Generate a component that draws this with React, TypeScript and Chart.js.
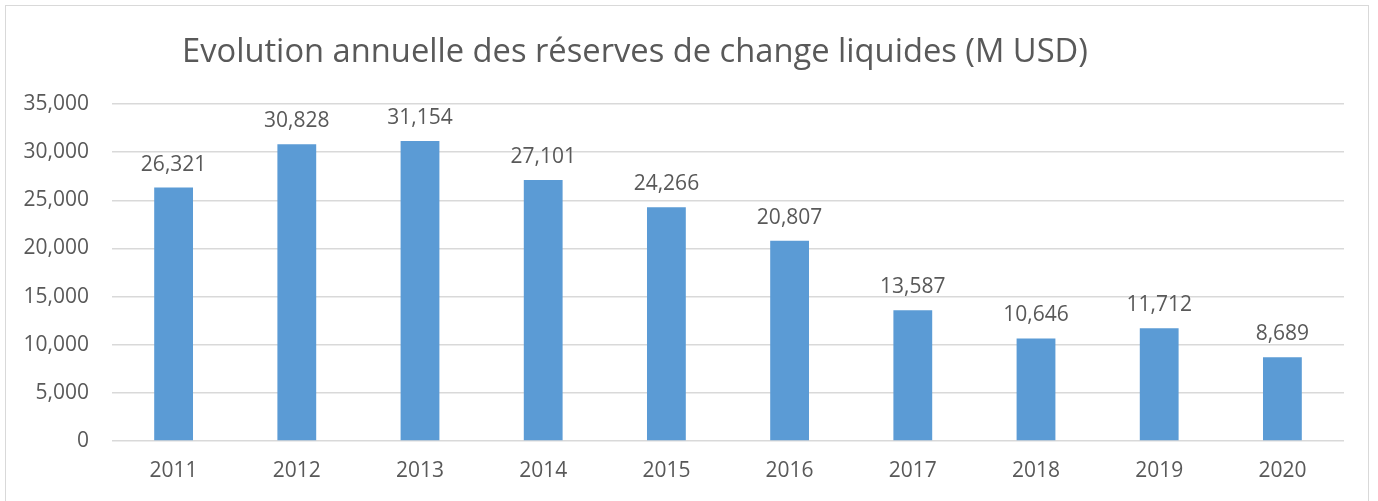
import React, { useEffect, useRef } from "react";
import { Chart, registerables } from "chart.js";

Chart.register(...registerables);

const TITLE = "Evolution annuelle des réserves de change liquides (M USD)";
const YEARS = ["2011", "2012", "2013", "2014", "2015", "2016", "2017", "2018", "2019", "2020"];
const RESERVES = [26321, 30828, 31154, 27101, 24266, 20807, 13587, 10646, 11712, 8689];
const Y_MIN = 0;
const Y_MAX = 35000;
const Y_STEP = 5000;

const FONT = "'Open Sans', 'Liberation Sans', sans-serif";
const TEXT = "#595959";

const fmt = (v: number) => v.toLocaleString("en-US");

const overlayPlugin = {
  id: "overlay",
  afterDatasetsDraw(chart: any) {
    const ctx = chart.ctx;
    ctx.save();
    ctx.fillStyle = TEXT;
    ctx.textAlign = "center";
    ctx.textBaseline = "alphabetic";
    ctx.font = `21px ${FONT}`;
    const meta = chart.getDatasetMeta(0);
    meta.data.forEach((bar: any, i: number) => {
      ctx.fillText(fmt(RESERVES[i]), bar.x, bar.y - 17);
    });
    ctx.font = `32.7px ${FONT}`;
    ctx.fillText(TITLE, 635, 62);
    ctx.restore();
  },
};

export default function App() {
  const ref = useRef<HTMLCanvasElement | null>(null);
  useEffect(() => {
    document.body.style.margin = "0";
    if (!ref.current) return;
    const chart = new Chart(ref.current, {
      type: "bar",
      data: {
        labels: YEARS,
        datasets: [
          {
            data: RESERVES,
            backgroundColor: "#5b9bd5",
            borderWidth: 0,
            categoryPercentage: 1,
            barPercentage: 0.315,
          },
        ],
      },
      options: {
        animation: false,
        responsive: false,
        maintainAspectRatio: false,
        layout: { padding: { top: 104, right: 34, left: 0, bottom: 0 } },
        plugins: { legend: { display: false }, tooltip: { enabled: false }, title: { display: false } },
        scales: {
          x: {
            grid: { display: false, drawTicks: false },
            border: { display: false },
            ticks: { color: TEXT, font: { family: FONT, size: 21 }, padding: 17 },
            afterFit: (s: any) => {
              s.height = 60;
            },
          },
          y: {
            min: Y_MIN,
            max: Y_MAX,
            grid: { color: "#d9d9d9", lineWidth: 1.5, drawTicks: false },
            border: { display: false },
            ticks: {
              stepSize: Y_STEP,
              color: TEXT,
              font: { family: FONT, size: 21 },
              padding: 23,
              callback: (v: any) => fmt(Number(v)),
            },
            afterFit: (s: any) => {
              s.width = 112;
            },
          },
        },
      },
      plugins: [overlayPlugin],
    });
    return () => chart.destroy();
  }, []);
  return (
    <div style={{ position: "relative", width: 1378, height: 501, overflow: "hidden", background: "#fff" }}>
      <div
        style={{
          position: "absolute",
          left: 5,
          top: 5,
          width: 1364,
          height: 600,
          border: "1.5px solid #d9d9d9",
          boxSizing: "border-box",
        }}
      />
      <canvas ref={ref} width={1378} height={501} style={{ position: "absolute", left: 0, top: 0 }} />
    </div>
  );
}
